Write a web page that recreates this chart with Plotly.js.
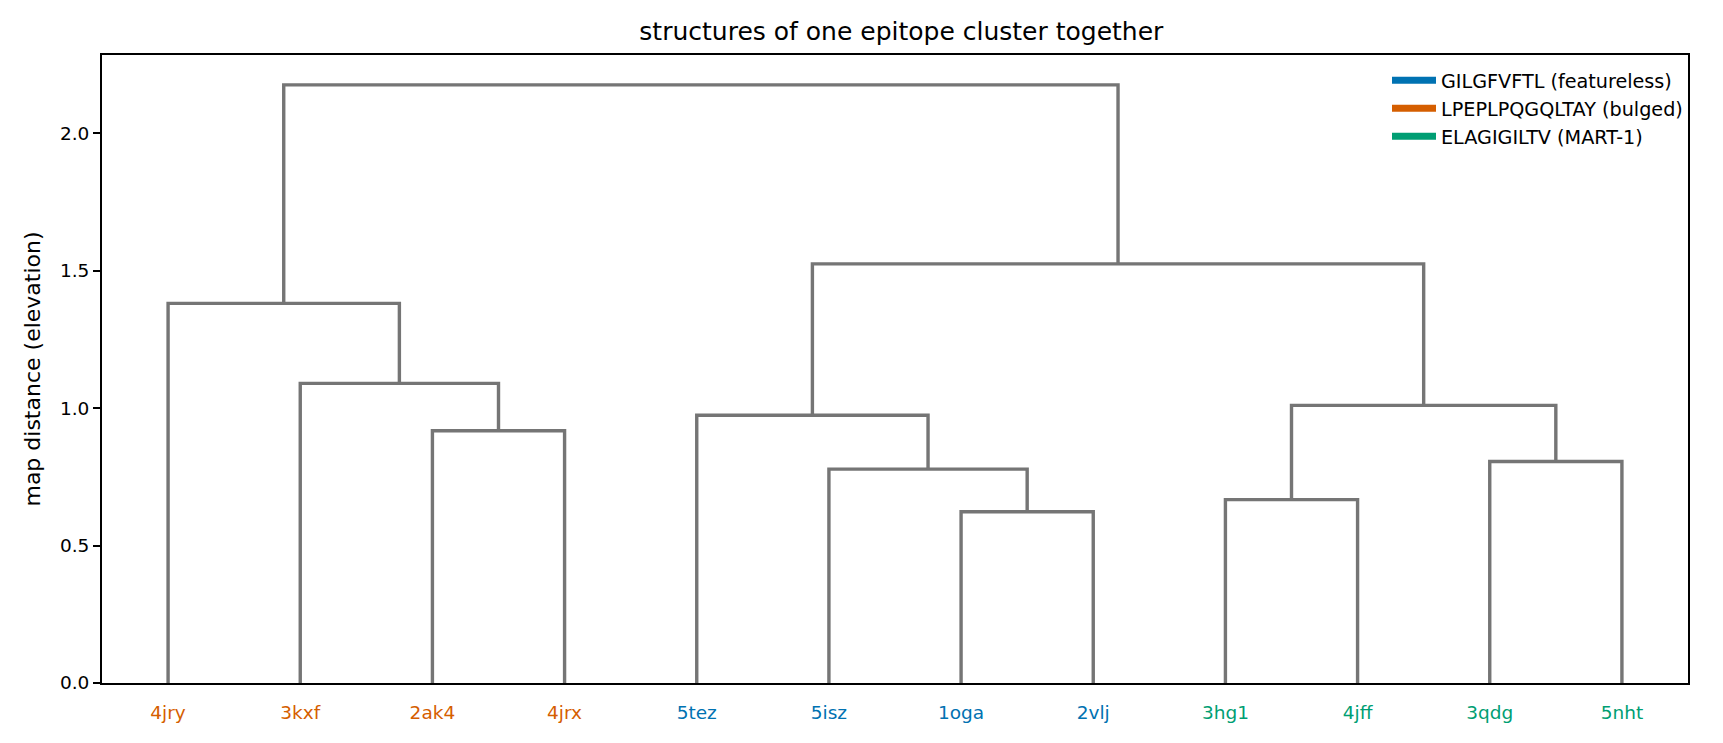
<!DOCTYPE html>
<html>
<head>
<meta charset="utf-8">
<script src="https://cdn.plot.ly/plotly-3.0.1.min.js"></script>
<style>
  html, body { margin:0; padding:0; background:#fff; }
  #chart { width:1723px; height:743px; }
</style>
</head>
<body>
<div id="chart"></div>
<script>
// leaves, left to right
const leafLabels = ['4jry','3kxf','2ak4','4jrx','5tez','5isz','1oga','2vlj','3hg1','4jff','3qdg','5nht'];
const leafGroup  = [1,1,1,1,0,0,0,0,2,2,2,2];

// epitope groups
const groupNames  = ['GILGFVFTL (featureless)','LPEPLPQGQLTAY (bulged)','ELAGIGILTV (MART-1)'];
const groupColors = ['#0072B2','#D55E00','#009E73'];

// linkage: [left node, right node, height]; new nodes are numbered from 12
const mergeLeft   = [2, 1, 0, 6, 5, 4, 8, 10, 18, 17, 14];
const mergeRight  = [3, 12, 13, 7, 15, 16, 9, 11, 19, 20, 21];
const mergeHeight = [0.918, 1.090, 1.381, 0.623, 0.778, 0.974, 0.667, 0.806, 1.010, 1.525, 2.176];

(function(){
  const nodeX = [], nodeY = [];
  leafLabels.forEach(function(_, i){ nodeX.push(5 + 10*i); nodeY.push(0); });
  const sx = [], sy = [];
  for (let k = 0; k < mergeLeft.length; k++) {
    const a = mergeLeft[k], b = mergeRight[k], h = mergeHeight[k];
    sx.push(nodeX[a], nodeX[a], nodeX[b], nodeX[b], null);
    sy.push(nodeY[a], h, h, nodeY[b], null);
    nodeX.push((nodeX[a] + nodeX[b]) / 2);
    nodeY.push(h);
  }

  const traces = [{
    type:'scatter', mode:'lines', x: sx, y: sy,
    line:{ color:'#757575', width:3.4 }, hoverinfo:'skip', showlegend:false
  }];
  groupNames.forEach(function(name, g){
    traces.push({ type:'scatter', mode:'lines', x:[null], y:[null], name: name,
      line:{ color: groupColors[g], width:7 }, showlegend:true });
  });

  const tickText = leafLabels.map(function(l, i){
    return '<span style="color:' + groupColors[leafGroup[i]] + '">' + l + '</span>';
  });

  const yMax = Math.max.apply(null, mergeHeight) * 1.05;

  const layout = {
    width:1723, height:743,
    margin:{ l:102, r:35, t:55, b:60 },
    paper_bgcolor:'#fff', plot_bgcolor:'#fff',
    font:{ family:'DejaVu Sans, sans-serif', color:'#000', size:18.5 },
    title:{ text:'structures of one epitope cluster together', x:0.504, xref:'paper',
      y:1 - 31/743, yref:'container', yanchor:'middle', font:{ size:25 } },
    showlegend:true,
    legend:{ x:1, xanchor:'right', y:0.99, yanchor:'top', bgcolor:'rgba(0,0,0,0)',
      font:{ size:19.2 }, itemwidth:44, tracegroupgap:0 },
    xaxis:{ range:[0, 10*leafLabels.length], tickvals: leafLabels.map(function(_, i){ return 5 + 10*i; }),
      ticktext: tickText, ticks:'', ticklabelstandoff:12, tickfont:{ size:18.5 },
      showgrid:false, zeroline:false, showline:true, mirror:true, linecolor:'#000', linewidth:2 },
    yaxis:{ range:[0, yMax], dtick:0.5, tick0:0, tickformat:'.1f', ticks:'outside', ticklen:7,
      tickwidth:1.7, tickcolor:'#000', tickfont:{ size:18.5 },
      title:{ text:'map distance (elevation)', font:{ size:22 }, standoff:13 },
      showgrid:false, zeroline:false, showline:true, mirror:true, linecolor:'#000', linewidth:2 }
  };

  Plotly.newPlot('chart', traces, layout, { displayModeBar:false, responsive:false });
})();
</script>
</body>
</html>
